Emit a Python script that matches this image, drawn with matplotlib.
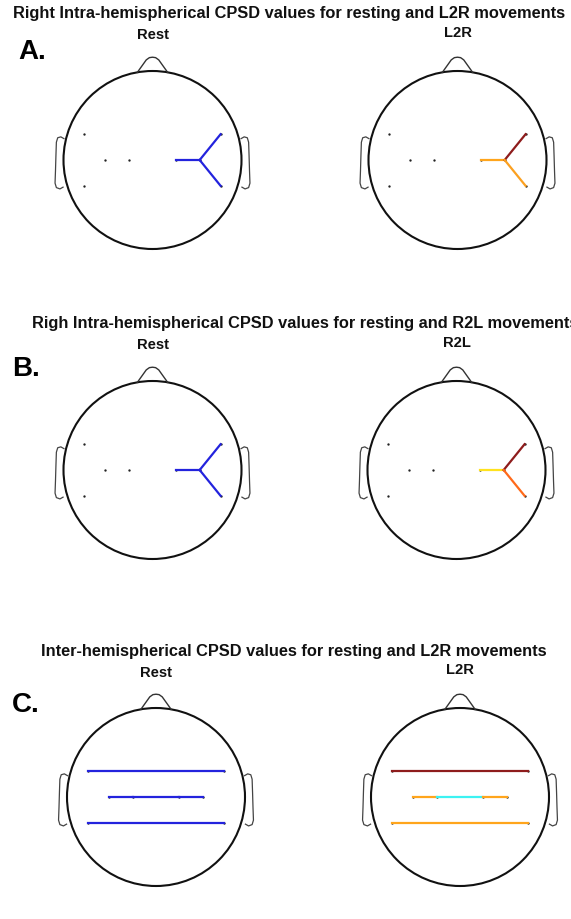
import numpy as np
import matplotlib
matplotlib.use("Agg")
import matplotlib.pyplot as plt
from matplotlib.patches import Circle

plt.rcParams['font.family'] = ['Liberation Sans', 'DejaVu Sans']

W, H = 571, 919

# Electrode positions on the unit head (x: left/right, y: front/back)
ch_names = ["FC5", "C3", "C1", "CP5", "FC6", "C4", "C2", "CP6"]
ch_x = [-0.765, -0.53, -0.26, -0.765, 0.765, 0.53, 0.26, 0.765]
ch_y = [0.29, 0.0, 0.0, -0.29, 0.29, 0.0, 0.0, -0.29]

# Connections per panel and condition
intra_pairs = [("C2", "C4"), ("C4", "FC6"), ("C4", "CP6")]
inter_pairs = [("FC5", "FC6"), ("C3", "C1"), ("C1", "C2"), ("C2", "C4"), ("CP5", "CP6")]

a_rest_colors = ["#2323dd", "#2323dd", "#2323dd"]
a_l2r_colors = ["#ffa51c", "#8e1c1c", "#fba020"]
b_rest_colors = ["#2323dd", "#2323dd", "#2323dd"]
b_r2l_colors = ["#ffe21e", "#8e1c1c", "#ff6a1a"]
c_rest_colors = ["#2323dd", "#2323dd", "#2323dd", "#2323dd", "#2323dd"]
c_l2r_colors = ["#8e1c1c", "#ffa51c", "#3cf2f2", "#ffa51c", "#ffa51c"]

panel_titles = [
    "Right Intra-hemispherical CPSD values for resting and L2R movements",
    "Righ Intra-hemispherical CPSD values for resting and R2L movements",
    "Inter-hemispherical CPSD values for resting and L2R movements",
]
panel_letters = ["A.", "B.", "C."]
cond_labels = [("Rest", "L2R"), ("Rest", "R2L"), ("Rest", "L2R")]

pos = dict(zip(ch_names, zip(ch_x, ch_y)))

fig = plt.figure(figsize=(W / 100, H / 100), dpi=100)

R_PX = 89.0
HALF = 120.0


def head_axes(cx, cy):
    ax = fig.add_axes([(cx - HALF) / W, (H - cy - HALF) / H, 2 * HALF / W, 2 * HALF / H])
    lim = HALF / R_PX
    ax.set_xlim(-lim, lim)
    ax.set_ylim(-lim, lim)
    ax.set_aspect("equal")
    ax.axis("off")
    # head outline
    ax.add_patch(Circle((0, 0), 1.0, fill=False, ec="#111111", lw=1.5, zorder=2))
    # nose
    nx = [-0.17, -0.07, -0.035, 0.0, 0.035, 0.07, 0.17]
    ny = [0.985, 1.125, 1.15, 1.155, 1.15, 1.125, 0.985]
    ax.plot(nx, ny, color="#333333", lw=1.0, zorder=2)
    # ears
    ex = np.array([0.995, 1.03, 1.065, 1.08, 1.085, 1.09, 1.095, 1.08, 1.04, 1.005])
    ey = np.array([0.24, 0.26, 0.25, 0.2, 0.05, -0.12, -0.26, -0.31, -0.325, -0.305])
    ax.plot(ex, ey, color="#444444", lw=0.9, zorder=2)
    ax.plot(-ex, ey, color="#444444", lw=0.9, zorder=2)
    # electrodes
    ax.plot(ch_x, ch_y, ls="none", marker="o", ms=1.7, mew=0, color="#222222", zorder=3)
    return ax


def draw_links(ax, pairs, colors):
    for (a, b), c in zip(pairs, colors):
        ax.plot([pos[a][0], pos[b][0]], [pos[a][1], pos[b][1]], color=c, lw=1.6,
                solid_capstyle="projecting", zorder=4)


# panel A
ax = head_axes(152.5, 160)
draw_links(ax, intra_pairs, a_rest_colors)
ax = head_axes(457.5, 160)
draw_links(ax, intra_pairs, a_l2r_colors)

# panel B
ax = head_axes(152.5, 470)
draw_links(ax, intra_pairs, b_rest_colors)
ax = head_axes(456.5, 470)
draw_links(ax, intra_pairs, b_r2l_colors)

# panel C
ax = head_axes(156, 797)
draw_links(ax, inter_pairs, c_rest_colors)
ax = head_axes(460, 797)
draw_links(ax, inter_pairs, c_l2r_colors)

# texts
tkw = dict(fontsize=11.8, fontweight="bold", color="#111111", va="baseline")
fig.text(289.5 / W, 1 - 18 / H, panel_titles[0], ha="center", **tkw)
fig.text(32 / W, 1 - 328 / H, panel_titles[1], ha="left", **tkw)
fig.text(293.5 / W, 1 - 656 / H, panel_titles[2], ha="center", **tkw)

skw = dict(fontsize=10.6, fontweight="bold", color="#111111", va="baseline", ha="center")
fig.text(153 / W, 1 - 39 / H, cond_labels[0][0], **skw)
fig.text(457.5 / W, 1 - 37 / H, cond_labels[0][1], **skw)
fig.text(153 / W, 1 - 349 / H, cond_labels[1][0], **skw)
fig.text(456.5 / W, 1 - 347 / H, cond_labels[1][1], **skw)
fig.text(156 / W, 1 - 677 / H, cond_labels[2][0], **skw)
fig.text(460 / W, 1 - 674 / H, cond_labels[2][1], **skw)

lkw = dict(fontsize=20, fontweight="bold", color="black", va="baseline", ha="left")
fig.text(18 / W, 1 - 59 / H, panel_letters[0], **lkw)
fig.text(12 / W, 1 - 376 / H, panel_letters[1], **lkw)
fig.text(12 / W, 1 - 712 / H, panel_letters[2], **lkw)

fig.savefig("out.png", dpi=100)
